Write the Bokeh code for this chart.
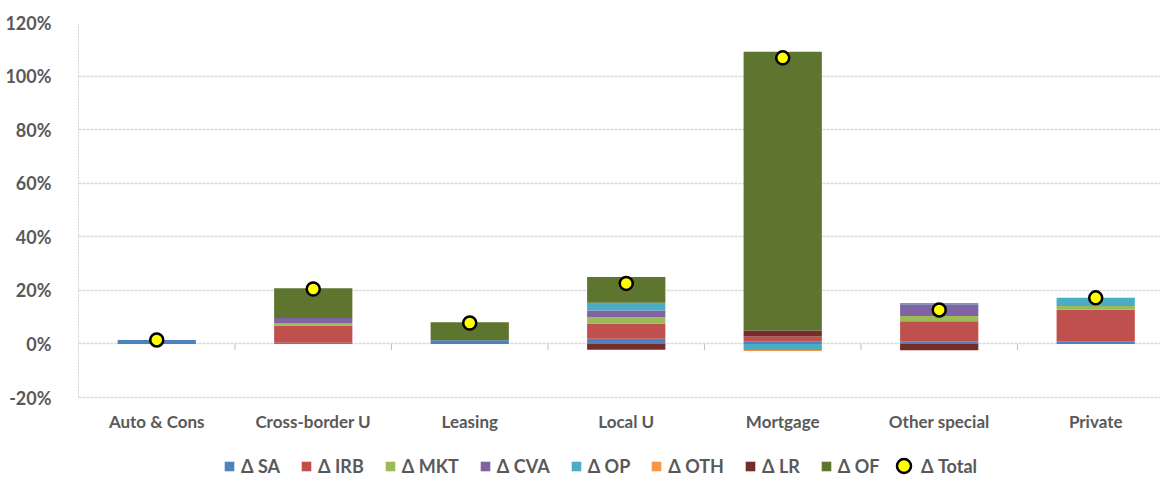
from bokeh.plotting import figure
from bokeh.models import ColumnDataSource, Legend, LegendItem, Range1d, FixedTicker, PrintfTickFormatter
from bokeh.core.properties import value
from bokeh.embed import file_html
from bokeh.resources import INLINE

categories = ["Auto & Cons", "Cross-border U", "Leasing", "Local U", "Mortgage", "Other special", "Private"]
d_sa = [1.5, 0.4, 1.4, 1.9, 0.8, 1.0, 1.0]
d_irb = [0.0, 6.5, 0.0, 5.7, 2.0, 7.5, 11.8]
d_mkt = [0.0, 0.9, 0.0, 2.4, 0.0, 1.9, 1.4]
d_cva = [0.0, 1.9, 0.0, 2.5, 0.0, 4.4, 0.0]
d_op = [0.0, 0.0, 0.0, 2.9, -2.3, 0.5, 3.0]
d_oth = [0.0, 0.0, 0.0, 0.0, -0.3, 0.0, 0.0]
d_lr = [0.0, 0.0, 0.0, -2.2, 2.2, -2.4, 0.0]
d_of = [0.0, 11.1, 6.7, 9.6, 104.1, 0.0, 0.0]
d_total = [1.5, 20.5, 7.8, 22.6, 106.8, 12.7, 17.2]
y_ticks = [-20, 0, 20, 40, 60, 80, 100, 120]

series = [
    ("Δ SA", d_sa, "#4f81bd"),
    ("Δ IRB", d_irb, "#c0504d"),
    ("Δ MKT", d_mkt, "#9bbb59"),
    ("Δ CVA", d_cva, "#8064a2"),
    ("Δ OP", d_op, "#4bacc6"),
    ("Δ OTH", d_oth, "#f79646"),
    ("Δ LR", d_lr, "#772c2a"),
    ("Δ OF", d_of, "#5e7530"),
]

FONT = "Lato"
GREY = "#595959"
Y_MIN, Y_MAX = y_ticks[0], y_ticks[-1]
PX_PER_UNIT = 375 / (Y_MAX - Y_MIN)
FRAME_H = 455
Y_LOW = Y_MAX - FRAME_H / PX_PER_UNIT
LABEL_Y = Y_MIN - 24 / PX_PER_UNIT

xs = list(range(len(categories)))

p = figure(frame_width=1082, frame_height=FRAME_H, output_backend="svg", toolbar_location=None,
           x_range=Range1d(-0.5, 6.414), y_range=Range1d(Y_LOW, Y_MAX),
           min_border_left=78, min_border_right=0, min_border_top=22, min_border_bottom=0)
p.outline_line_color = None
p.background_fill_color = "white"

# category separator ticks on the zero line
sep = [i + 0.5 for i in xs[:-1]]
p.segment(x0=sep, x1=sep, y0=[0] * len(sep), y1=[-2.3] * len(sep),
          line_color="#bfbfbf", line_width=1)

pos = [0.0] * len(xs)
neg = [0.0] * len(xs)
items = []
for name, vals, color in series:
    bottoms, tops = [], []
    for i, v in enumerate(vals):
        if v >= 0:
            bottoms.append(pos[i]); tops.append(pos[i] + v); pos[i] += v
        else:
            bottoms.append(neg[i]); tops.append(neg[i] + v); neg[i] += v
    src = ColumnDataSource(dict(x=xs, bottom=bottoms, top=tops))
    r = p.vbar(x="x", bottom="bottom", top="top", width=0.5, source=src,
               fill_color=color, line_color=None)
    items.append(LegendItem(label=name, renderers=[r]))

tsrc = ColumnDataSource(dict(x=xs, y=d_total))
rt = p.scatter(x="x", y="y", source=tsrc, size=13, marker="circle",
               fill_color="#ffff00", line_color="black", line_width=2.5)

# category labels (below the -20% line)
csrc = ColumnDataSource(dict(x=xs, y=[LABEL_Y] * len(xs), text=categories))
p.text(x="x", y="y", text="text", source=csrc, text_align="center", text_baseline="middle",
       text_font=value(FONT), text_font_style="bold", text_font_size="17px", text_color=GREY)

# axes
p.xaxis.visible = False
p.yaxis.ticker = FixedTicker(ticks=y_ticks)
p.yaxis.bounds = (Y_MIN, Y_MAX)
p.yaxis.formatter = PrintfTickFormatter(format="%d%%")
p.yaxis.axis_line_color = "#d0d0d0"
p.yaxis.axis_line_dash = "2 1"
p.yaxis.major_tick_line_color = None
p.yaxis.minor_tick_line_color = None
p.yaxis.major_label_standoff = 21
p.yaxis.major_label_text_font = FONT
p.yaxis.major_label_text_font_style = "bold"
p.yaxis.major_label_text_font_size = "18px"
p.yaxis.major_label_text_color = GREY

p.xgrid.grid_line_color = None
p.ygrid.grid_line_color = "#d9d9d9"
p.ygrid.grid_line_width = 1.5
p.ygrid.grid_line_dash = "3 1"

common = dict(orientation="horizontal", label_text_font=FONT, label_text_font_style="bold",
              label_text_font_size="18px", label_text_color=GREY,
              border_line_color=None, background_fill_alpha=0, padding=0, margin=0)

legend = Legend(items=items, location=(145, 0), glyph_width=12, glyph_height=12,
                label_standoff=6, spacing=20, label_height=16, **common)
p.add_layout(legend, "center")

legend_total = Legend(items=[LegendItem(label="Δ Total", renderers=[rt])], location=(808, -6),
                      glyph_width=35, glyph_height=35, label_standoff=-5, label_height=16, **common)
p.add_layout(legend_total, "center")

open("out.html", "w").write(file_html(p, INLINE))
